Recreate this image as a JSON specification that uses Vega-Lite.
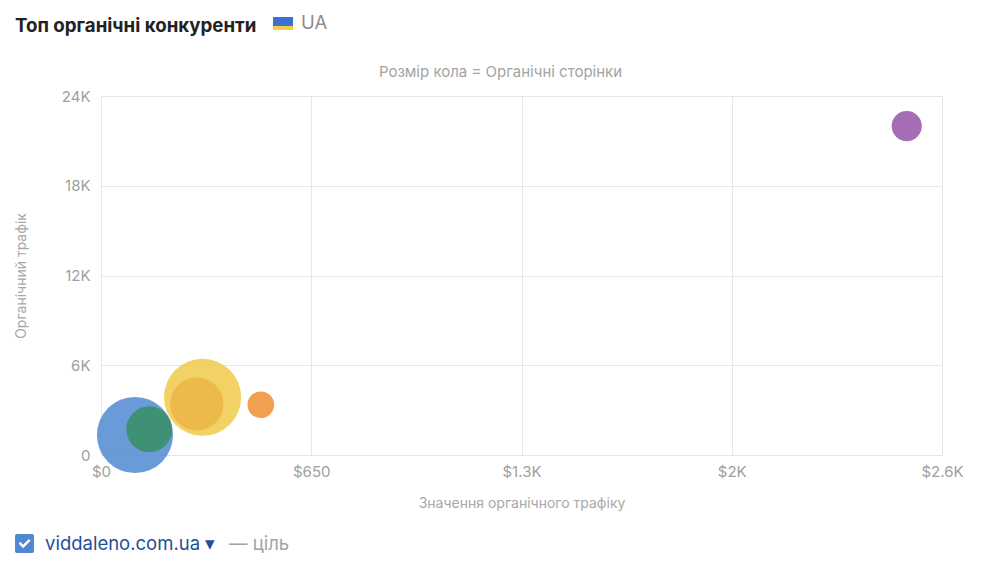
{
  "$schema": "https://vega.github.io/schema/vega-lite/v6.json",
  "autosize": {"type": "none"},
  "width": 841,
  "height": 359,
  "padding": {"left": 101, "top": 96, "right": 58, "bottom": 119},
  "config": {
    "font": "Inter",
    "view": {"stroke": null},
    "axis": {
      "grid": true,
      "gridColor": "#e6e6e6",
      "domain": false,
      "ticks": false,
      "labelFlush": false,
      "labelColor": "#a0a0a0",
      "labelFontSize": 15,
      "titleColor": "#a8a8a8",
      "titleFontSize": 14,
      "titleFontWeight": "normal"
    }
  },
  "title": {
    "text": "Розмір кола = Органічні сторінки",
    "anchor": "middle",
    "frame": "group",
    "dx": -21,
    "dy": 84,
    "offset": 14,
    "fontSize": 15,
    "fontWeight": "normal",
    "color": "#a3a3a3"
  },
  "data": {
    "values": [
      {"domain": "viddaleno.com.ua", "value": 105, "traffic": 1340, "pages": 5800},
      {"domain": "freelancehunt.com", "value": 149, "traffic": 1720, "pages": 2100},
      {"domain": "work.ua", "value": 314, "traffic": 3860, "pages": 5950},
      {"domain": "robota.ua", "value": 296, "traffic": 3410, "pages": 2830},
      {"domain": "djinni.co", "value": 494, "traffic": 3360, "pages": 710},
      {"domain": "jooble.org", "value": 2491, "traffic": 21990, "pages": 910}
    ]
  },
  "mark": {"type": "point", "filled": true, "opacity": 0.85, "clip": false},
  "encoding": {
    "x": {
      "field": "value",
      "type": "quantitative",
      "scale": {"domain": [0, 2600], "nice": false},
      "axis": {
        "values": [0, 650, 1300, 1950, 2600],
        "labelExpr": "datum.value == 0 ? '$0' : datum.value == 650 ? '$650' : datum.value == 1300 ? '$1.3K' : datum.value == 1950 ? '$2K' : '$2.6K'",
        "labelPadding": 9,
        "title": "Значення органічного трафіку",
        "titlePadding": 17
      }
    },
    "y": {
      "field": "traffic",
      "type": "quantitative",
      "scale": {"domain": [0, 24000], "nice": false},
      "axis": {
        "values": [0, 6000, 12000, 18000, 24000],
        "labelExpr": "datum.value == 0 ? '0' : (datum.value / 1000) + 'K'",
        "labelPadding": 11,
        "title": "Органічний трафік",
        "titlePadding": 33
      }
    },
    "size": {
      "field": "pages",
      "type": "quantitative",
      "scale": {"domain": [0, 6000], "range": [0, 6000], "zero": true},
      "legend": null
    },
    "color": {
      "field": "domain",
      "type": "nominal",
      "scale": {
        "domain": ["viddaleno.com.ua", "freelancehunt.com", "work.ua", "robota.ua", "djinni.co", "jooble.org"],
        "range": ["#5188d1", "#368f63", "#f0ca49", "#ecb545", "#ed8f31", "#9554a7"]
      },
      "legend": {
        "values": ["viddaleno.com.ua"],
        "orient": "none",
        "legendX": -86,
        "legendY": 438,
        "direction": "horizontal",
        "title": "— ціль",
        "titleOrient": "right",
        "titleFontSize": 18.5,
        "titleFontWeight": "normal",
        "titleColor": "#a3a3a3",
        "titlePadding": 14,
        "titleLimit": 300,
        "labelExpr": "datum.label + ' ▾'",
        "labelFontSize": 18.5,
        "labelColor": "#1f4e9c",
        "labelOffset": 11,
        "labelLimit": 400,
        "symbolType": "M-0.8,-1H0.8Q1,-1 1,-0.8V0.8Q1,1 0.8,1H-0.8Q-1,1 -1,0.8V-0.8Q-1,-1 -0.8,-1Z M-0.62,0.0L-0.15,0.5L0.64,-0.3L0.46,-0.48L-0.15,0.14L-0.44,-0.18Z",
        "symbolSize": 361,
        "symbolStrokeWidth": 0,
        "symbolOpacity": 1
      }
    },
    "strokeDash": {
      "datum": "UA",
      "type": "nominal",
      "scale": {"range": [[20, 1000]]},
      "legend": {
        "orient": "none",
        "legendX": -86,
        "legendY": -86,
        "title": "Топ органічні конкуренти",
        "titleOrient": "left",
        "titleFontSize": 18.7,
        "titleFontWeight": "bold",
        "titleColor": "#222222",
        "titlePadding": 13,
        "titleLimit": 500,
        "labelFontSize": 18.5,
        "labelColor": "#8c8c8c",
        "labelOffset": 5,
        "labelLimit": 200,
        "symbolType": "M-1,-0.3H1M-1,0H1V0.7H-1Z",
        "symbolSize": 400,
        "symbolStrokeWidth": 6,
        "symbolStrokeColor": "#3f6fd1",
        "symbolOpacity": 1,
        "symbolFillColor": "#f3cf45"
      }
    }
  }
}
